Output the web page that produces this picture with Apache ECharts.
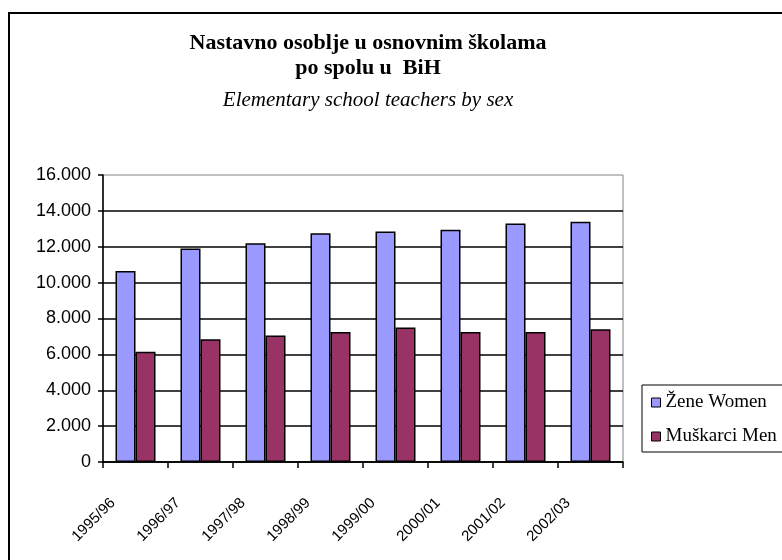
<!DOCTYPE html>
<html>
<head>
<meta charset="utf-8">
<script src="https://cdn.jsdelivr.net/npm/echarts@6/dist/echarts.min.js"></script>
<style>
  html, body { margin: 0; padding: 0; background: #fff; }
  #chart { width: 782px; height: 560px; }
</style>
</head>
<body>
<div id="chart"></div>
<script>
  'use strict'

  /* data */
  var categories = ['1995/96', '1996/97', '1997/98', '1998/99', '1999/00', '2000/01', '2001/02', '2002/03'];
  var women = [10650, 11900, 12200, 12750, 12850, 12950, 13300, 13400];
  var men = [6150, 6850, 7050, 7250, 7500, 7250, 7250, 7400];
  var seriesNames = ['Žene Women', 'Muškarci Men'];
  var yMin = 0, yMax = 16000, yStep = 2000;

  var fmt = function (v) {
      return String(v).replace(/\B(?=(\d{3})+(?!\d))/g, '.');
  };

  var chart = echarts.init(document.getElementById('chart'));
  var option = {
      animation: false,
      backgroundColor: '#fff',
      title: [
          {
              text: 'Nastavno osoblje u osnovnim školama\npo spolu u  BiH',
              left: 368,
              top: 31,
              textAlign: 'center',
              padding: 0,
              textStyle: {
                  fontFamily: 'Liberation Serif',
                  fontWeight: 'bold',
                  fontSize: 22,
                  lineHeight: 25,
                  color: '#000'
              }
          },
          {
              text: 'Elementary school teachers by sex',
              left: 368,
              top: 90,
              textAlign: 'center',
              padding: 0,
              textStyle: {
                  fontFamily: 'Liberation Serif',
                  fontStyle: 'italic',
                  fontWeight: 'normal',
                  fontSize: 21,
                  color: '#000'
              }
          }
      ],
      legend: {
          orient: 'vertical',
          left: 642,
          top: 385,
          padding: [8, 40, 6, 9],
          itemGap: 15,
          itemWidth: 9,
          itemHeight: 9,
          icon: 'rect',
          borderColor: '#000',
          borderWidth: 1,
          itemStyle: { borderColor: '#000', borderWidth: 1 },
          textStyle: {
              fontFamily: 'Liberation Serif',
              fontSize: 19,
              lineHeight: 19,
              color: '#000'
          },
          data: seriesNames
      },
      graphic: [
          {
              type: 'rect',
              shape: { x: 9, y: 13, width: 800, height: 600 },
              style: { fill: 'none', stroke: '#000', lineWidth: 2 },
              silent: true
          }
      ],
      grid: {
          left: 103,
          right: 159,
          top: 175,
          bottom: 98,
          show: true,
          borderColor: '#808080',
          borderWidth: 1,
          backgroundColor: 'transparent'
      },
      xAxis: {
          type: 'category',
          data: categories,
          axisLine: { lineStyle: { color: '#000', width: 1.5 } },
          axisTick: { show: true, length: 6, lineStyle: { color: '#000', width: 1.5 } },
          axisLabel: {
              interval: 0,
              rotate: 45,
              margin: 16,
              padding: [0, 32, 0, 0],
              fontFamily: 'Liberation Sans',
              fontSize: 15,
              color: '#000'
          },
          splitLine: { show: false }
      },
      yAxis: {
          type: 'value',
          min: yMin,
          max: yMax,
          interval: yStep,
          axisLine: { show: true, lineStyle: { color: '#000', width: 1.5 } },
          axisTick: { show: true, length: 5, lineStyle: { color: '#000', width: 1.5 } },
          axisLabel: {
              margin: 12,
              fontFamily: 'Liberation Sans',
              fontSize: 18,
              color: '#000',
              formatter: fmt
          },
          splitLine: { show: true, showMaxLine: false, lineStyle: { color: '#000', width: 1.5 } }
      },
      series: [
          {
              name: seriesNames[0],
              type: 'bar',
              data: women,
              barWidth: 20,
              barGap: '0%',
              itemStyle: { color: '#9999FF', borderColor: '#000', borderWidth: 1.5 }
          },
          {
              name: seriesNames[1],
              type: 'bar',
              data: men,
              barWidth: 20,
              barGap: '0%',
              itemStyle: { color: '#993366', borderColor: '#000', borderWidth: 1.5 }
          }
      ]
  };
  chart.setOption(option);
</script>
</body>
</html>
